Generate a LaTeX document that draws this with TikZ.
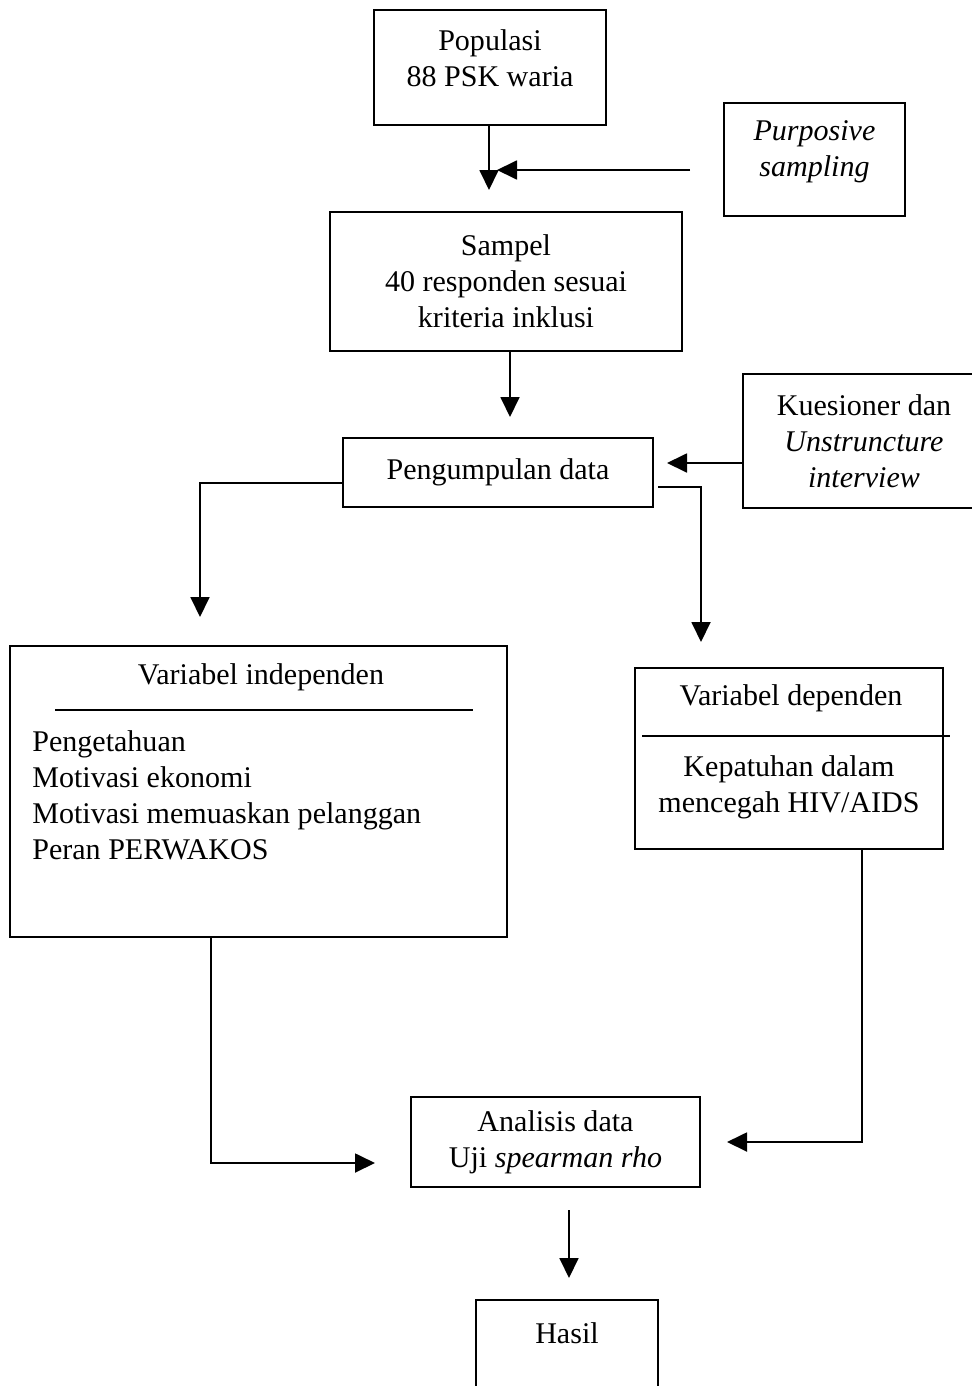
\documentclass[tikz,border=0pt]{standalone}
\usepackage{fontspec}
\setmainfont{Liberation Serif}
\usetikzlibrary{arrows.meta,positioning}

\begin{document}
\begin{tikzpicture}[
    x=0.02cm, y=-0.02cm,
    box/.style={rectangle, draw, line width=1.05pt, inner sep=0pt, align=center, font=\txtfont},
    txt/.style={inner sep=0pt, align=center, font=\txtfont},
    arrow/.style={-{Triangle[length=0.4cm, width=0.38cm]}, line width=1.05pt},
    rule/.style={line width=1.05pt}
]
\newcommand{\txtfont}{\fontsize{17.1}{20.5}\selectfont}
\useasboundingbox (0,0) rectangle (972,1386);

% Boxes
\node[box, minimum width=4.64cm, minimum height=2.3cm] (pop) at (490,67.5) {};
\node[txt] at (490,58) {Populasi\\88 PSK waria};
\node[box, minimum width=3.62cm, minimum height=2.26cm] (purp) at (814.5,159.5) {};
\node[txt] at (814.5,152) {\textit{Purposive}\\\textit{sampling}};
\node[box, minimum width=7.04cm, minimum height=2.78cm] (samp) at (506,281.5) {Sampel\\40 responden sesuai\\kriteria inklusi};
\node[box, minimum width=6.2cm, minimum height=1.38cm] (pgd) at (498,472.5) {Pengumpulan data};
\node[box, minimum width=4.84cm, minimum height=2.68cm] (kues) at (864,441) {Kuesioner dan\\\textit{Unstruncture}\\\textit{interview}};

% Variabel
\node[box, minimum width=9.94cm, minimum height=5.82cm] (indep) at (258.5,791.5) {};
\node[txt] at (261,677) {Variabel independen};
\draw[rule] (55,710) -- (473,710);
\node[txt, align=left, anchor=north west] at (32,730) {Pengetahuan\\Motivasi ekonomi\\Motivasi memuaskan pelanggan\\Peran PERWAKOS};
\node[box, minimum width=6.16cm, minimum height=3.62cm] (dep) at (789,758.5) {};
\node[txt] at (791,698) {Variabel dependen};
\draw[rule] (642,736) -- (950,736);
\node[txt] at (789,787) {Kepatuhan dalam\\mencegah HIV/AIDS};

% Analisis dan hasil
\node[box, minimum width=5.78cm, minimum height=1.8cm] (ana) at (555.5,1142) {Analisis data\\Uji \textit{spearman rho}};
\node[box, minimum width=3.64cm, minimum height=2.0cm] (hasil) at (567,1350) {};
\node[txt] at (567,1333) {Hasil};

% Arrows
\coordinate (popend) at (489,190);
\coordinate (purpstart) at (690,170);
\coordinate (purpend) at (497,170);
\draw[arrow] (pop.south -| popend) -- (popend);
\draw[arrow] (purpstart) -- (purpend);
\coordinate (sampend) at (510,417);
\draw[arrow] (samp.south -| sampend) -- (sampend);
\coordinate (kuesend) at (667,463);
\draw[arrow] (kues.west |- kuesend) -- (kuesend);
\coordinate (independ) at (200,617);
\draw[arrow] ([yshift=-0.21cm]pgd.west) -| (independ);
\coordinate (depstart) at (658,487);
\coordinate (depend) at (701,642);
\draw[arrow] (depstart) -| (depend);
\coordinate (anaL) at (375,1163);
\draw[arrow] (indep.south -| 211,0) |- (anaL);
\coordinate (anaR) at (727,1142);
\draw[arrow] (dep.south -| 862,0) |- (anaR);
\coordinate (hasilstart) at (569,1210);
\coordinate (hasilend) at (569,1278);
\draw[arrow] (hasilstart) -- (hasilend);

\end{tikzpicture}
\end{document}
